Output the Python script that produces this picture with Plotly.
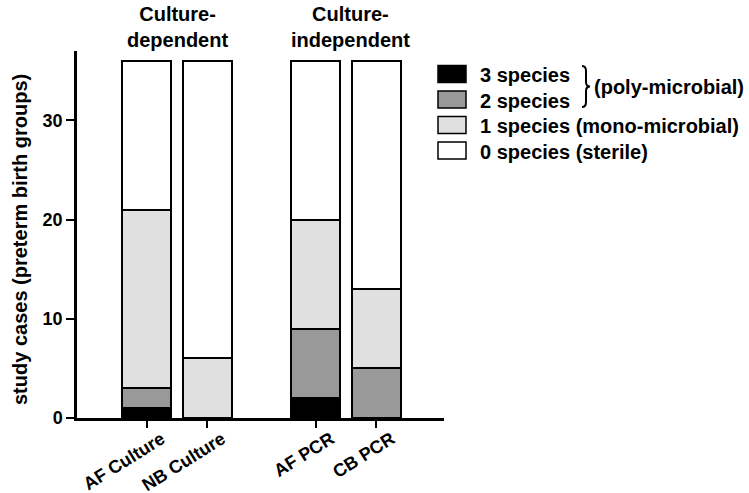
import plotly.graph_objects as go

categories = ["AF Culture", "NB Culture", "AF PCR", "CB PCR"]
series_names = ["3 species", "2 species", "1 species (mono-microbial)", "0 species (sterile)"]
three_species = [1, 0, 2, 0]
two_species = [2, 0, 7, 5]
one_species = [18, 6, 11, 8]
zero_species = [15, 30, 16, 23]
y_ticks = [0, 10, 20, 30]
group_titles = ["Culture-<br>dependent", "Culture-<br>independent"]
poly_label = "(poly-microbial)"
y_title = "study cases (preterm birth groups)"

colors = ["#000000", "#999999", "#e0e0e0", "#ffffff"]
x_pos = [0, 1, 2.8, 3.8]

W, H = 749, 493
L, R, T, B = 77, 444, 51, 418
FONT = "Liberation Sans, Arial, sans-serif"


def px(x):
    return (x - L) / (R - L)


def py(y):
    return (B - y) / (B - T)


fig = go.Figure()
all_series = [three_species, two_species, one_species, zero_species]
for name, vals, col in zip(series_names, all_series, colors):
    fig.add_trace(go.Bar(
        x=x_pos, y=[v if v else None for v in vals], name=name,
        marker=dict(color=col, line=dict(color="black", width=2)),
        width=0.81, showlegend=False,
    ))

x_range = [(L - 146.5) / 60.5, (R - 146.5) / 60.5]

fig.update_layout(
    width=W, height=H, barmode="stack",
    margin=dict(l=L, r=W - R, t=T, b=H - B, pad=0, autoexpand=False),
    plot_bgcolor="white", paper_bgcolor="white",
    font=dict(family=FONT, color="black"),
    xaxis=dict(range=x_range, tickvals=x_pos, ticktext=categories,
               showline=True, linecolor="black", linewidth=2.5,
               ticks="outside", ticklen=7, tickwidth=2, tickcolor="black",
               tickangle=-32, showgrid=False, zeroline=False, automargin=False,
               ticklabelshift=15, ticklabelstandoff=-6,
               tickfont=dict(size=18, family=FONT, weight="bold")),
    yaxis=dict(range=[0, 37], tickvals=y_ticks,
               showline=True, linecolor="black", linewidth=2.5,
               ticks="outside", ticklen=8, tickwidth=2, tickcolor="black",
               showgrid=False, zeroline=False, automargin=False,
               tickfont=dict(size=18, family=FONT, weight="bold")),
)

ann = []
ann.append(dict(x=px(20), y=py(240), xref="paper", yref="paper", text=y_title,
                textangle=-90, showarrow=False, xanchor="center", yanchor="middle",
                font=dict(size=20, family=FONT, weight="bold")))
for t, cx in zip(group_titles, [177, 350]):
    ann.append(dict(x=px(cx), y=py(27), xref="paper", yref="paper", text=t,
                    showarrow=False, xanchor="center", yanchor="middle",
                    font=dict(size=20, family=FONT, weight="bold")))

shapes = []
row_y = [74, 99.5, 125, 150.5]
for name, col, ry in zip(series_names, colors, row_y):
    shapes.append(dict(type="rect", xref="paper", yref="paper",
                       x0=px(438), x1=px(466), y0=py(ry - 8.5), y1=py(ry + 8.5),
                       fillcolor=col, line=dict(color="black", width=1.5)))
    ann.append(dict(x=px(478), y=py(ry + 1), xref="paper", yref="paper", text=name,
                    showarrow=False, xanchor="left", yanchor="middle",
                    font=dict(size=20, family=FONT, weight="bold")))

# brace
path = "M{},{} Q{},{} {},{} L{},{} Q{},{} {},{} Q{},{} {},{} L{},{} Q{},{} {},{}".format(
    px(582), py(66),
    px(586), py(66), px(586), py(71),
    px(586), py(82),
    px(586), py(86.5), px(590), py(86.5),
    px(586), py(86.5), px(586), py(91),
    px(586), py(102),
    px(586), py(107), px(582), py(107),
)
shapes.append(dict(type="path", xref="paper", yref="paper", path=path,
                   line=dict(color="black", width=2)))
ann.append(dict(x=px(592), y=py(87), xref="paper", yref="paper", text=poly_label,
                showarrow=False, xanchor="left", yanchor="middle",
                font=dict(size=20, family=FONT, weight="bold")))

fig.update_layout(annotations=ann, shapes=shapes)
fig.write_html("out.html", config={"displayModeBar": False},
               post_script="document.body.style.margin='0';document.body.style.overflow='hidden';")
